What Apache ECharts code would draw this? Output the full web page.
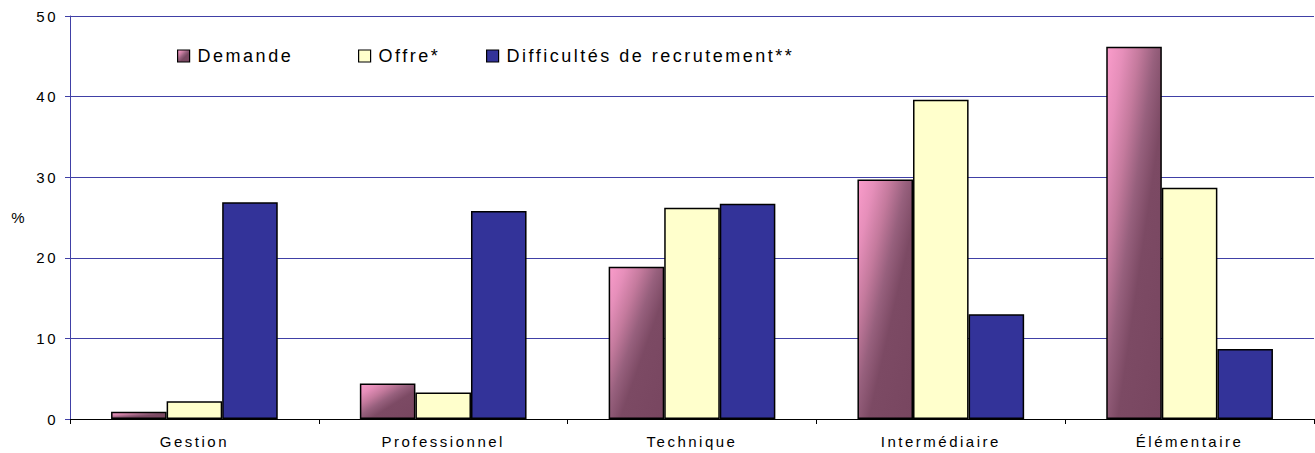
<!DOCTYPE html>
<html>
<head>
<meta charset="utf-8">
<script src="https://cdn.jsdelivr.net/npm/echarts@6/dist/echarts.min.js"></script>
<style>
  html, body { margin: 0; padding: 0; background: #ffffff; }
  #chart { width: 1315px; height: 453px; letter-spacing: 2.5px; }
</style>
</head>
<body>
<div id="chart"></div>
<script>
const categories = ['Gestion', 'Professionnel', 'Technique', 'Intermédiaire', 'Élémentaire'];
const seriesNames = ['Demande', 'Offre*', 'Difficultés de recrutement**'];
const demande = [0.9, 4.4, 18.9, 29.7, 46.2];
const offre = [2.2, 3.3, 26.2, 39.6, 28.7];
const difficultes = [26.9, 25.8, 26.7, 13.0, 8.7];
const yMin = 0, yMax = 50, yStep = 10;

const FONT = "'Liberation Sans', Arial, sans-serif";
const gridBlue = '#4040a6';

function pinkGradient() {
  return new echarts.graphic.LinearGradient(0, 0, 1, 1, [
    { offset: 0, color: '#fa9ccb' },
    { offset: 0.15, color: '#e68fba' },
    { offset: 0.3, color: '#c47a9d' },
    { offset: 0.45, color: '#97607d' },
    { offset: 0.6, color: '#7c4a64' },
    { offset: 1, color: '#784660' }
  ]);
}

const chart = echarts.init(document.getElementById('chart'), null, { renderer: 'svg' });

const legendCommon = {
  top: 47, padding: 0, itemWidth: 12, itemHeight: 12, icon: 'rect',
  textStyle: { fontFamily: FONT, fontSize: 18, color: '#000', padding: [0, 0, 0, 3] }
};

chart.setOption({
  backgroundColor: '#ffffff',
  animation: false,
  grid: { left: 70, right: 1, top: 16, bottom: 34, containLabel: false },
  legend: [
    Object.assign({}, legendCommon, { left: 177, data: [{ name: seriesNames[0], itemStyle: { color: pinkGradient(), borderColor: '#000', borderWidth: 1.2 } }] }),
    Object.assign({}, legendCommon, { left: 358, data: [{ name: seriesNames[1], itemStyle: { color: '#ffffcc', borderColor: '#000', borderWidth: 1.2 } }] }),
    Object.assign({}, legendCommon, { left: 486, data: [{ name: seriesNames[2], itemStyle: { color: '#333399', borderColor: '#000', borderWidth: 1.2 } }] })
  ],
  xAxis: {
    type: 'category',
    data: categories,
    axisLine: { lineStyle: { color: '#000', width: 1 } },
    axisTick: { show: true, length: 5, lineStyle: { color: '#000' } },
    axisLabel: { fontFamily: FONT, fontSize: 15, color: '#000', margin: 15 },
    splitLine: { show: false }
  },
  yAxis: {
    type: 'value',
    min: yMin, max: yMax, interval: yStep,
    name: '%',
    nameLocation: 'middle',
    nameRotate: 0,
    nameGap: 43,
    nameTextStyle: { fontFamily: FONT, fontSize: 15, color: '#000' },
    axisLine: { show: true, lineStyle: { color: gridBlue, width: 1 } },
    axisTick: { show: true, length: 5, lineStyle: { color: gridBlue } },
    axisLabel: { fontFamily: FONT, fontSize: 15, color: '#000', margin: 12 },
    splitLine: { show: true, lineStyle: { color: gridBlue, width: 1 } }
  },
  series: [
    {
      name: seriesNames[0], type: 'bar', data: demande,
      barGap: '0%', barCategoryGap: '33%',
      itemStyle: { color: pinkGradient(), borderColor: '#000', borderWidth: 1.5 }
    },
    {
      name: seriesNames[1], type: 'bar', data: offre,
      barGap: '0%', barCategoryGap: '33%',
      itemStyle: { color: '#ffffcc', borderColor: '#000', borderWidth: 1.5 }
    },
    {
      name: seriesNames[2], type: 'bar', data: difficultes,
      barGap: '0%', barCategoryGap: '33%',
      itemStyle: { color: '#333399', borderColor: '#000', borderWidth: 1.5 }
    }
  ]
});
</script>
</body>
</html>
